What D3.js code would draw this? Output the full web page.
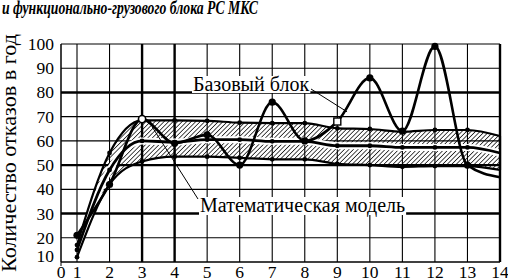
<!DOCTYPE html>
<html>
<head>
<meta charset="utf-8">
<script src="https://cdn.jsdelivr.net/npm/d3@7"></script>
<style>
  body { margin: 0; background: #fff; }
  svg { display: block; }
</style>
</head>
<body>
<svg id="chart" width="508" height="280"></svg>
<script>
// годы эксплуатации
const years = [1, 2, 3, 4, 5, 6, 7, 8, 9, 10, 11, 12, 13, 14];
// базовый блок (фактические отказы)
const baseBlock = [21, 42, 69, 59, 62.5, 50, 76, 60, 68, 86, 64, 99, 50, 45];
const baseMarks = ['dot', 'dot', 'circle', 'dot', 'dot', 'dot', 'dot', 'dot', 'square', 'dot', 'dot', 'dot', 'dot', 'none'];
// математическая модель: верхняя граница, среднее, нижняя граница
const modelUpper = [17, 55, 68.5, 68.5, 68.3, 67.5, 67.3, 67.3, 65.2, 64.9, 63.8, 64.5, 64.5, 62];
const modelMiddle = [15, 48, 60, 59.5, 60.5, 60.5, 59.8, 59.8, 58, 58, 57.3, 57.3, 57.3, 55];
const modelLower = [12, 42, 51.5, 53.5, 53.5, 53, 52.4, 52.4, 50.5, 50, 49.3, 49.6, 49.6, 48];
// подписи осей
const xTicks = [0, 1, 2, 3, 4, 5, 6, 7, 8, 9, 10, 11, 12, 13, 14];
const yTicks = [10, 20, 30, 40, 50, 60, 70, 80, 90, 100];
const boldX = [3, 4, 14];
const boldY = [30, 50, 80];

const FONT = '"Liberation Serif", "Times New Roman", serif';
const svg = d3.select('#chart');

// шкала X неравномерная: 0 прижат к 1
const x = d3.scaleLinear().domain([0, 1, 14]).range([61, 77, 500]);
const y = d3.scaleLinear().domain([10, 100]).range([262, 44]);

// штриховка
const defs = svg.append('defs');
defs.append('pattern')
  .attr('id', 'hatch')
  .attr('patternUnits', 'userSpaceOnUse')
  .attr('width', 3.2)
  .attr('height', 3.2)
  .attr('patternTransform', 'rotate(45)')
  .append('line')
  .attr('x1', 0).attr('y1', 0).attr('x2', 0).attr('y2', 3.2)
  .attr('stroke', '#000')
  .attr('stroke-width', 1.4);

// заголовок (обрезан сверху)
svg.append('text')
  .style('font-family', FONT)
  .style('font-size', '18px')
  .style('font-weight', 'bold')
  .style('font-style', 'italic')
  .attr('x', 2)
  .attr('y', 14)
  .attr('textLength', 256)
  .attr('lengthAdjust', 'spacingAndGlyphs')
  .text('и функционально-грузового блока РС МКС');

// сетка
const grid = svg.append('g');
grid.selectAll('.gx')
  .data(xTicks.slice(1))
  .join('line')
  .attr('x1', (d) => x(d)).attr('x2', (d) => x(d))
  .attr('y1', y(10)).attr('y2', y(100))
  .attr('stroke', '#000')
  .attr('stroke-width', (d) => (boldX.includes(d) ? 2.4 : 1.1));
grid.selectAll('.gy')
  .data(yTicks.slice(1))
  .join('line')
  .attr('x1', x(0)).attr('x2', x(14))
  .attr('y1', (d) => y(d)).attr('y2', (d) => y(d))
  .attr('stroke', '#000')
  .attr('stroke-width', (d) => (boldY.includes(d) ? 2.4 : 1.1));

// оси
svg.append('line')
  .attr('x1', x(0)).attr('x2', x(0)).attr('y1', y(10)).attr('y2', y(100))
  .attr('stroke', '#000').attr('stroke-width', 1.5);
svg.append('line')
  .attr('x1', x(0)).attr('x2', x(14)).attr('y1', y(10)).attr('y2', y(10))
  .attr('stroke', '#000').attr('stroke-width', 1.5);
svg.append('line')
  .attr('x1', x(0)).attr('x2', x(0)).attr('y1', y(10)).attr('y2', y(10) + 4)
  .attr('stroke', '#000').attr('stroke-width', 1);

// подписи делений
svg.append('g')
  .selectAll('text')
  .data(xTicks)
  .join('text')
  .style('font-family', FONT)
  .style('font-size', '17.5px')
  .attr('x', (d) => x(d))
  .attr('y', 277.5)
  .attr('text-anchor', 'middle')
  .text((d) => d);
svg.append('g')
  .selectAll('text')
  .data(yTicks)
  .join('text')
  .style('font-family', FONT)
  .style('font-size', '17.5px')
  .attr('x', 54)
  .attr('y', (d) => y(d) + (d === 10 ? -6 : 0))
  .attr('dy', '0.34em')
  .attr('text-anchor', 'end')
  .text((d) => d);

// подпись оси Y
svg.append('text')
  .style('font-family', FONT)
  .style('font-size', '20px')
  .attr('transform', 'translate(16,153) rotate(-90)')
  .attr('text-anchor', 'middle')
  .attr('textLength', 238)
  .attr('lengthAdjust', 'spacingAndGlyphs')
  .text('Количество отказов в год');

// полоса модели
const rows = years.map((d, i) => ({
  x: d,
  up: modelUpper[i],
  mid: modelMiddle[i],
  low: modelLower[i],
  base: baseBlock[i],
  mark: baseMarks[i],
}));

const area = (a, b) =>
  d3.area()
    .x((d) => x(d.x))
    .y0((d) => y(d[b]))
    .y1((d) => y(d[a]))
    .curve(d3.curveMonotoneX);
const line = (k) =>
  d3.line()
    .x((d) => x(d.x))
    .y((d) => y(d[k]))
    .curve(d3.curveMonotoneX);

const band = svg.append('g');
band.append('path').attr('d', area('up', 'low')(rows)).attr('fill', 'url(#hatch)');
// белый просвет вокруг средней линии
band.append('path')
  .attr('d', line('mid')(rows))
  .attr('fill', 'none')
  .attr('stroke', '#fff')
  .attr('stroke-width', 7);
['up', 'mid', 'low'].forEach((k) => {
  band.append('path')
    .attr('d', line(k)(rows))
    .attr('fill', 'none')
    .attr('stroke', '#000')
    .attr('stroke-width', k === 'mid' ? 2.8 : 2.2);
  band.selectAll('.dot-' + k)
    .data(rows.slice(0, -1))
    .join('circle')
    .attr('cx', (d) => x(d.x))
    .attr('cy', (d) => y(d[k]))
    .attr('r', 2.4)
    .attr('fill', '#000');
});
// правая граница полосы
const last = rows[rows.length - 1];
band.append('line')
  .attr('x1', x(last.x)).attr('x2', x(last.x))
  .attr('y1', y(last.up)).attr('y2', y(last.low))
  .attr('stroke', '#000').attr('stroke-width', 2.2);

// базовый блок
const baseG = svg.append('g');
baseG.append('path')
  .attr('d', line('base')(rows))
  .attr('fill', 'none')
  .attr('stroke', '#000')
  .attr('stroke-width', 2.6);
baseG.selectAll('circle.b')
  .data(rows.filter((d) => d.mark === 'dot'))
  .join('circle')
  .attr('cx', (d) => x(d.x))
  .attr('cy', (d) => y(d.base))
  .attr('r', 3.6)
  .attr('fill', '#000');
baseG.selectAll('circle.o')
  .data(rows.filter((d) => d.mark === 'circle'))
  .join('circle')
  .attr('cx', (d) => x(d.x))
  .attr('cy', (d) => y(d.base))
  .attr('r', 3.6)
  .attr('fill', '#fff')
  .attr('stroke', '#000')
  .attr('stroke-width', 1.6);
baseG.selectAll('rect.s')
  .data(rows.filter((d) => d.mark === 'square'))
  .join('rect')
  .attr('x', (d) => x(d.x) - 3.5)
  .attr('y', (d) => y(d.base) - 3.5)
  .attr('width', 7)
  .attr('height', 7)
  .attr('fill', '#fff')
  .attr('stroke', '#000')
  .attr('stroke-width', 1.4);

// выноски
function label(txt, tx, ty, ax, ay, fromX, fromY) {
  svg.append('line')
    .attr('x1', fromX).attr('y1', fromY)
    .attr('x2', x(ax)).attr('y2', y(ay))
    .attr('stroke', '#000').attr('stroke-width', 1);
  const t = svg.append('text')
    .style('font-family', FONT)
    .style('font-size', '20px')
    .attr('x', tx)
    .attr('y', ty)
    .text(txt);
  const bb = t.node().getBBox();
  svg.insert('rect', () => t.node())
    .attr('x', bb.x - 1).attr('y', bb.y + 3)
    .attr('width', bb.width + 2).attr('height', bb.height - 5)
    .attr('fill', '#fff');
}
label('Базовый блок', 193, 91, 9.3, 72, 311, 89);
label('Математическая модель', 200, 212, 3.3, 66, 198, 199);
</script>
</body>
</html>
